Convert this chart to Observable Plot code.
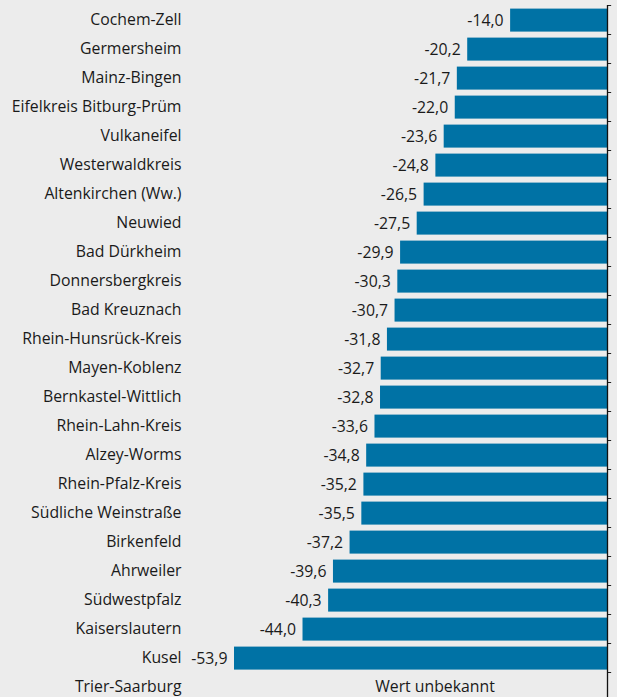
<!DOCTYPE html>
<html>
<head>
<meta charset="utf-8">
<script src="https://cdn.jsdelivr.net/npm/d3@7"></script>
<script src="https://cdn.jsdelivr.net/npm/@observablehq/plot@0.6"></script>
<style>
  html, body { margin: 0; padding: 0; background: #ececec; overflow: hidden; }
  #chart svg { display: block; background: #ececec; }
</style>
</head>
<body>
<div id="chart"></div>
<script>
const districts = [
  "Cochem-Zell", "Germersheim", "Mainz-Bingen", "Eifelkreis Bitburg-Prüm",
  "Vulkaneifel", "Westerwaldkreis", "Altenkirchen (Ww.)", "Neuwied",
  "Bad Dürkheim", "Donnersbergkreis", "Bad Kreuznach", "Rhein-Hunsrück-Kreis",
  "Mayen-Koblenz", "Bernkastel-Wittlich", "Rhein-Lahn-Kreis", "Alzey-Worms",
  "Rhein-Pfalz-Kreis", "Südliche Weinstraße", "Birkenfeld", "Ahrweiler",
  "Südwestpfalz", "Kaiserslautern", "Kusel", "Trier-Saarburg"
];
const values = [
  -14.0, -20.2, -21.7, -22.0, -23.6, -24.8, -26.5, -27.5, -29.9, -30.3,
  -30.7, -31.8, -32.7, -32.8, -33.6, -34.8, -35.2, -35.5, -37.2, -39.6,
  -40.3, -44.0, -53.9, null
];
const unknownText = "Wert unbekannt";

const data = districts.map((name, i) => ({ name, value: values[i] }));
const known = data.filter(d => d.value != null);
const unknown = data.filter(d => d.value == null);
const fmt = v => v.toFixed(1).replace(".", ",");

const font = "'Open Sans', sans-serif";
const fs = 15.8;
const chart = Plot.plot({
  width: 617,
  height: 701,
  marginTop: 5,
  marginBottom: 0,
  marginLeft: 234,
  marginRight: 10,
  style: { background: "#ececec", fontFamily: font, fontSize: fs + "px", color: "#1a1a1a" },
  x: { domain: [d3.min(known, d => d.value), 0], axis: null },
  y: { domain: districts, paddingInner: 0.2, paddingOuter: 0.1, axis: null },
  marks: [
    Plot.barX(known, { x: "value", y: "name", fill: "#0072a5", dy: 0.6 }),
    Plot.text(known, { x: "value", y: "name", text: d => fmt(d.value), textAnchor: "end", dx: -7, dy: 0.5, fill: "#1a1a1a", fontSize: fs }),
    Plot.text(unknown, { y: "name", text: () => unknownText, frameAnchor: "middle", dx: 14, fill: "#1a1a1a", fontSize: fs }),
    Plot.axisY({ tickSize: 0, tickPadding: 53, fontSize: fs, fill: "#1a1a1a", label: null }),
    Plot.ruleY(districts, { y: d => d, x1: 0, x2: 0.6, dy: -14.5, stroke: "#222", strokeWidth: 1 }),
    Plot.ruleX([0], { stroke: "#111", strokeWidth: 1.3 })
  ]
});
document.getElementById("chart").append(chart);
</script>
</body>
</html>
